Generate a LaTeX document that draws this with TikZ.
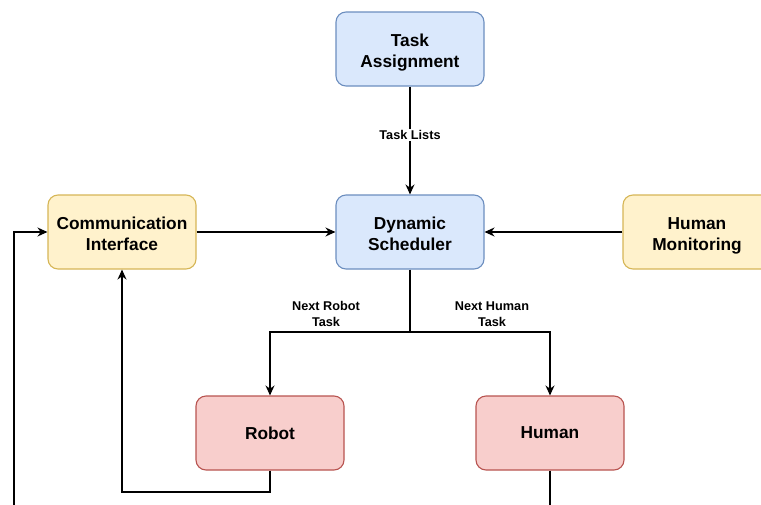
\documentclass[tikz,border=0pt]{standalone}
\usepackage{fontspec}
\setmainfont{Liberation Sans}
\usepackage{tikz}
\usetikzlibrary{arrows.meta}
\newcommand\twolines[2]{\raisebox{-3.5pt}[\height][\depth]{\begin{tabular}{@{}c@{}}#1\\#2\end{tabular}}}
\definecolor{node_blue}{RGB}{218,232,252}
\definecolor{edge_blue}{RGB}{108,142,191}
\definecolor{node_yell}{RGB}{255,242,204}
\definecolor{edge_yell}{RGB}{214,182,86}
\definecolor{node_red}{RGB}{248,206,204}
\definecolor{edge_red}{RGB}{184,84,80}
\begin{document}
\begin{tikzpicture}[x=1pt,y=-1pt,line width=1.3pt,>={Stealth[length=10pt,width=9pt]}]
    \tikzstyle{box}=[draw, rounded corners=10pt, minimum width=148pt, minimum height=74pt, align=center, line width=1.1pt, text=black, font=\fontsize{17.3}{21.5}\selectfont\bfseries]
    \tikzstyle{boxblue}=[style=box,fill=node_blue,draw=edge_blue]
    \tikzstyle{boxyell}=[style=box,fill=node_yell,draw=edge_yell]
    \tikzstyle{boxred}=[style=box,fill=node_red,draw=edge_red]
    \tikzstyle{label}=[text=black,align=center,inner sep=1pt,font=\fontsize{12.7}{15.5}\selectfont\bfseries]

    \clip (0,0) rectangle (761,504);
    \useasboundingbox (0,0) rectangle (761,504);

    \node[boxblue] (TA) at (410,49)  {\twolines{Task}{Assignment}};
    \node[boxblue] (DS) at (410,232) {\twolines{Dynamic}{Scheduler}};
    \node[boxyell] (CI) at (122,232) {\twolines{Communication}{Interface}};
    \node[boxyell] (HM) at (697,232) {\twolines{Human}{Monitoring}};
    \node[boxred]  (R)  at (270,433) {Robot};
    \node[boxred]  (H)  at (550,433) {Human};

    \coordinate (split) at (410,332);
    \coordinate (inl)   at (14,510);
    \coordinate (outh)  at (550,510);
    \coordinate (ret)   at (270,492);

    \draw[->] (TA) -- node[label,fill=white,pos=0.45] (tl) {Task Lists} (DS);
    \draw[->] (CI) -- (DS);
    \draw[->] (HM) -- (DS);
    \draw (DS) -- (split);
    \draw[->] (split) -| (R);
    \draw[->] (split) -| (H);
    \draw[->] (R) -- (ret) -| (CI);
    \draw[->] (inl) |- (CI);
    \draw (H) -- (outh);

    \node[label] (nr) at (326,314) {Next Robot\\Task};
    \node[label] (nh) at (492,314) {Next Human\\Task};
\end{tikzpicture}
\end{document}
